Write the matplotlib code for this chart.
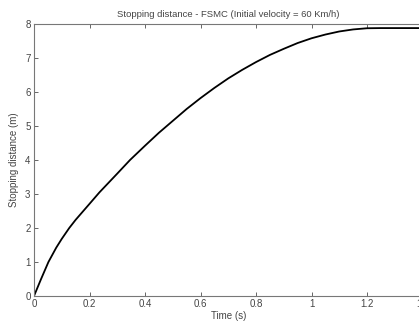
import numpy as np
import matplotlib
matplotlib.use('Agg')
import matplotlib.pyplot as plt

# values
time_s = [0, 0.025, 0.052, 0.08, 0.1, 0.127, 0.15, 0.2, 0.236, 0.3, 0.346, 0.4, 0.45, 0.5,
          0.55, 0.6, 0.65, 0.7, 0.75, 0.8, 0.85, 0.9, 0.95, 1.0, 1.05, 1.1, 1.15, 1.2, 1.25, 1.4]
dist_m = [0, 0.49, 1.0, 1.42, 1.68, 2.0, 2.24, 2.71, 3.05, 3.6, 4.0, 4.42, 4.8, 5.15,
          5.5, 5.82, 6.12, 6.4, 6.65, 6.88, 7.09, 7.27, 7.44, 7.58, 7.69, 7.78, 7.84, 7.875, 7.88, 7.88]

xticks = [0, 0.2, 0.4, 0.6, 0.8, 1, 1.2, 1.4]
xticklabels = ['0', '0.2', '0.4', '0.6', '0.8', '1', '1.2', '1.4']
yticks = [0, 1, 2, 3, 4, 5, 6, 7, 8]

plt.rcParams['font.family'] = ['Liberation Sans', 'DejaVu Sans']
txt = '#444444'

fig = plt.figure(figsize=(4.19, 3.25), dpi=100)
ax = fig.add_axes([34 / 419, 29 / 325, 388.5 / 419, 272 / 325])

ax.plot(time_s, dist_m, color='black', lw=1.3)

ax.set_xlim(0, 1.4)
ax.set_ylim(0, 8)
ax.set_xticks(xticks)
ax.set_xticklabels(xticklabels)
ax.set_yticks(yticks)
ax.tick_params(direction='in', length=3, width=0.7, colors='#666666',
               labelcolor=txt, labelsize=7, top=True, right=True, pad=2.5)
for s in ax.spines.values():
    s.set_color('#777777')
    s.set_linewidth(0.8)

ax.set_title('Stopping distance - FSMC (Initial velocity = 60 Km/h)', fontsize=6.8, color=txt, pad=5)
ax.set_xlabel('Time (s)', fontsize=7, color=txt, labelpad=1)
ax.set_ylabel('Stopping distance (m)', fontsize=7, color=txt, labelpad=4)

fig.savefig('out.png', dpi=100)
